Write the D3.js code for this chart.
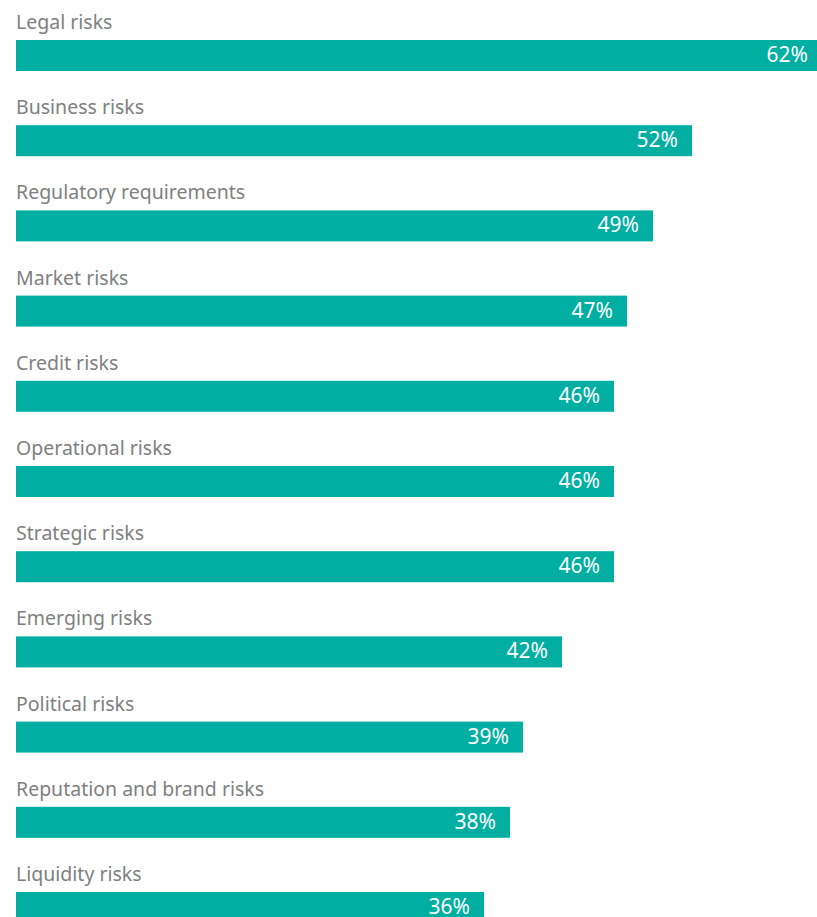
<!DOCTYPE html>
<html>
<head>
<meta charset="utf-8">
<script src="https://cdn.jsdelivr.net/npm/d3@7"></script>
<style>
  html, body { margin: 0; padding: 0; background: #ffffff; }
  svg { display: block; }
</style>
</head>
<body>
<svg id="chart" width="817" height="917"></svg>
<script>
// Share of respondents naming each risk type
const categories = [
  "Legal risks",
  "Business risks",
  "Regulatory requirements",
  "Market risks",
  "Credit risks",
  "Operational risks",
  "Strategic risks",
  "Emerging risks",
  "Political risks",
  "Reputation and brand risks",
  "Liquidity risks"
];
const values = [62, 52, 49, 47, 46, 46, 46, 42, 39, 38, 36];

const width = 817, height = 917;
const left = 16;
const barTop = 40, step = 85.2, barH = 31;
const inner = 1 - barH / step;

const svg = d3.select("#chart");

const x = d3.scaleLinear().domain([0, 62]).range([left, left + 806]);
const y = d3.scaleBand()
  .domain(categories)
  .range([barTop, barTop + step * (categories.length - inner)])
  .paddingInner(inner)
  .paddingOuter(0);

const data = categories.map((c, i) => ({ cat: c, val: values[i] }));

const g = svg.selectAll("g.row").data(data).join("g").attr("class", "row");

// bars
g.append("rect")
  .attr("x", x(0))
  .attr("y", d => y(d.cat))
  .attr("width", d => x(d.val) - x(0))
  .attr("height", y.bandwidth())
  .attr("fill", "#00afa1");

// category labels above each bar
g.append("text")
  .attr("x", left)
  .attr("y", d => y(d.cat) - 11)
  .attr("fill", "#808080")
  .style("font-family", "'Noto Sans', sans-serif")
  .style("font-size", "19.5px")
  .text(d => d.cat);

// value labels inside the bar end
g.append("text")
  .attr("x", d => x(d.val) - 14)
  .attr("y", d => y(d.cat) + 22)
  .attr("text-anchor", "end")
  .attr("fill", "#ffffff")
  .style("font-family", "'Noto Sans', sans-serif")
  .style("font-size", "21px")
  .text(d => d.val + "%");
</script>
</body>
</html>
